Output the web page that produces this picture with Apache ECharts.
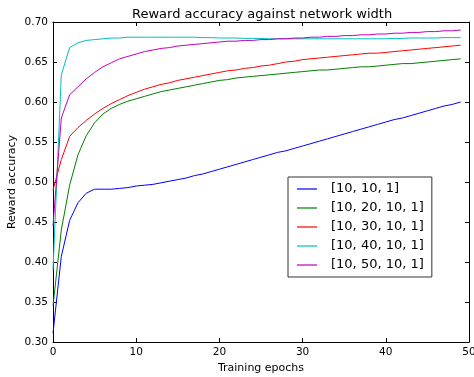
<!DOCTYPE html>
<html>
<head>
<meta charset="utf-8">
<script src="https://cdn.jsdelivr.net/npm/echarts@6/dist/echarts.min.js"></script>
<style>html,body{margin:0;padding:0;background:#fff;}#c{width:474px;height:377px;}</style>
</head>
<body>
<div id="c"></div>
<script>
const epochs = Array.from({length: 50}, (_, i) => i);
const seriesNames = ['[10, 10, 1]', '[10, 20, 10, 1]', '[10, 30, 10, 1]', '[10, 40, 10, 1]', '[10, 50, 10, 1]'];
const blue = [0.311,0.407,0.452,0.474,0.486,0.491,0.491,0.491,0.492,0.493,0.495,0.496,0.497,0.499,0.501,0.503,0.505,0.508,0.510,0.513,0.516,0.519,0.522,0.525,0.528,0.531,0.534,0.537,0.539,0.542,0.545,0.548,0.551,0.554,0.557,0.560,0.563,0.566,0.569,0.572,0.575,0.578,0.580,0.583,0.586,0.589,0.592,0.595,0.597,0.600];
const green = [0.345,0.440,0.496,0.534,0.558,0.574,0.585,0.592,0.597,0.601,0.604,0.607,0.610,0.613,0.615,0.617,0.619,0.621,0.623,0.625,0.627,0.628,0.630,0.631,0.632,0.633,0.634,0.635,0.636,0.637,0.638,0.639,0.640,0.640,0.641,0.642,0.643,0.644,0.644,0.645,0.646,0.647,0.648,0.648,0.649,0.650,0.651,0.652,0.653,0.654];
const red = [0.490,0.528,0.557,0.568,0.577,0.585,0.592,0.598,0.603,0.608,0.612,0.616,0.619,0.622,0.624,0.627,0.629,0.631,0.633,0.635,0.637,0.639,0.640,0.642,0.643,0.645,0.646,0.648,0.650,0.651,0.653,0.654,0.655,0.656,0.657,0.658,0.659,0.660,0.661,0.661,0.662,0.663,0.664,0.665,0.666,0.667,0.668,0.669,0.670,0.671];
const cyan = [0.390,0.634,0.668,0.674,0.677,0.678,0.679,0.680,0.680,0.681,0.681,0.681,0.681,0.681,0.681,0.681,0.681,0.681,0.6805,0.6805,0.680,0.680,0.680,0.6795,0.6795,0.6795,0.679,0.679,0.679,0.679,0.679,0.679,0.679,0.679,0.679,0.679,0.679,0.679,0.679,0.679,0.679,0.6795,0.6795,0.680,0.680,0.680,0.680,0.6805,0.6805,0.6805];
const magenta = [0.445,0.580,0.609,0.619,0.629,0.637,0.644,0.649,0.654,0.657,0.660,0.663,0.665,0.667,0.668,0.670,0.671,0.672,0.673,0.674,0.675,0.676,0.676,0.677,0.677,0.678,0.678,0.679,0.679,0.680,0.680,0.681,0.681,0.682,0.682,0.683,0.683,0.684,0.684,0.685,0.685,0.686,0.686,0.687,0.687,0.688,0.688,0.689,0.689,0.690];
const xTicks = [0, 10, 20, 30, 40, 50];
const yTicks = [0.30, 0.35, 0.40, 0.45, 0.50, 0.55, 0.60, 0.65, 0.70];

const allValues = [blue, green, red, cyan, magenta];
const colors = ['#0000ff', '#008000', '#ff0000', '#00bfbf', '#bf00bf'];
const font = 'DejaVu Sans';

const chart = echarts.init(document.getElementById('c'), null, {renderer: 'canvas'});
const axisCommon = {
  axisLine: {show: true, onZero: false, lineStyle: {color: '#000', width: 1}},
  axisTick: {show: true, inside: true, length: 4, lineStyle: {color: '#000'}},
  splitLine: {show: false}
};
chart.setOption({
  animation: false,
  backgroundColor: '#fff',
  title: {
    text: 'Reward accuracy against network width',
    left: 127, top: 3,
    textStyle: {fontFamily: font, fontSize: 13, fontWeight: 'normal', color: '#000'}
  },
  grid: {left: 53, right: 5, top: 22, bottom: 35, containLabel: false, outerBoundsMode: 'none'},
  legend: {
    orient: 'vertical',
    left: 288, top: 177,
    padding: [5, 8, 5, 9],
    itemGap: 5,
    icon: 'rect',
    itemWidth: 20, itemHeight: 1.2,
    backgroundColor: '#fff',
    borderColor: '#333', borderWidth: 1, borderRadius: 0,
    textStyle: {fontFamily: font, fontSize: 13, color: '#000', padding: [0, 0, 0, 9], lineHeight: 14},
    data: seriesNames
  },
  xAxis: [
    Object.assign({type: 'value', min: xTicks[0], max: xTicks[xTicks.length-1], interval: 10,
      name: 'Training epochs', nameLocation: 'middle', nameGap: 20.5, nameMoveOverlap: false,
      nameTextStyle: {fontFamily: font, fontSize: 11, color: '#000'},
      axisLabel: {fontFamily: font, fontSize: 10.5, color: '#000', margin: 5}}, axisCommon),
    Object.assign({type: 'value', position: 'top', min: xTicks[0], max: xTicks[xTicks.length-1], interval: 10,
      axisLabel: {show: false}}, axisCommon)
  ],
  yAxis: [
    Object.assign({type: 'value', min: yTicks[0], max: yTicks[yTicks.length-1], interval: 0.05,
      name: 'Reward accuracy', nameLocation: 'middle', nameGap: 35.5, nameMoveOverlap: false,
      nameTextStyle: {fontFamily: font, fontSize: 11, color: '#000'},
      axisLabel: {fontFamily: font, fontSize: 10.5, color: '#000', margin: 5, formatter: v => v.toFixed(2)}}, axisCommon),
    Object.assign({type: 'value', position: 'right', min: yTicks[0], max: yTicks[yTicks.length-1], interval: 0.05,
      axisLabel: {show: false}}, axisCommon)
  ],
  series: seriesNames.map((name, k) => ({
    name: name,
    type: 'line',
    xAxisIndex: 0, yAxisIndex: 0,
    symbol: 'none',
    smooth: false,
    color: colors[k],
    lineStyle: {width: 1, color: colors[k]},
    data: epochs.map((e, i) => [e, allValues[k][i]])
  }))
});
</script>
</body>
</html>
